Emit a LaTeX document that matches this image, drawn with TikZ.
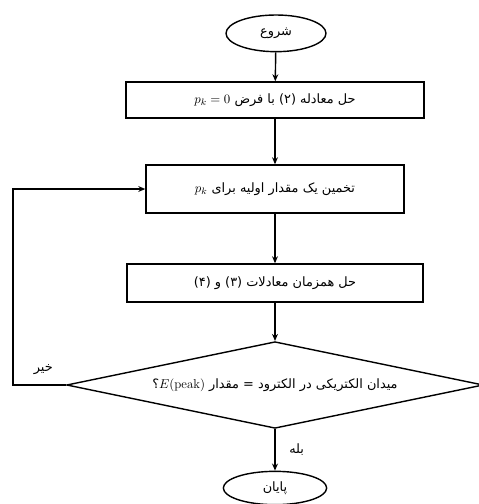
\documentclass[tikz,border=0pt]{standalone}
\usepackage{amsmath}
\usepackage{fontspec}
\usepackage{xcolor}
\newfontfamily\persianfont[Script=Arabic]{DejaVu Sans}
\TeXXeTstate=1
\newcommand{\fatxt}[1]{{\fontsize{11}{13}\selectfont\persianfont\beginR #1\endR}}
\usepackage{tikz}
\usetikzlibrary{shapes.geometric,arrows.meta}

\tikzset{
  term/.style = {ellipse, draw, line width=1.2pt, minimum width=3.0cm, minimum height=1.1cm, inner sep=0pt},
  proc/.style = {rectangle, draw, line width=1.2pt, inner sep=2pt},
  decide/.style = {diamond, draw, line width=1.2pt, aspect=4.8, inner sep=0pt, minimum width=12.5cm, minimum height=2.6cm},
  flow/.style = {-{Stealth[length=6pt,width=5pt]}, line width=1.2pt}
}

\begin{document}
\begin{tikzpicture}
\useasboundingbox (0, 0) rectangle (14.37, -15.12);

\node[term] (start) at (8.28, -1.0) {\fatxt{شروع}};
\node[proc, minimum width=8.94cm, minimum height=1.08cm] (solve) at (8.25, -3.0)
  {\fatxt{حل معادله (۲) با فرض \beginL$p_k = 0$\endL}};
\node[proc, minimum width=7.74cm, minimum height=1.44cm] (guess) at (8.25, -5.67)
  {\fatxt{تخمین یک مقدار اولیه برای \beginL$p_k$\endL}};
\node[proc, minimum width=8.88cm, minimum height=1.14cm] (joint) at (8.25, -8.49)
  {\fatxt{حل همزمان معادلات (۳) و (۴)}};
\node[decide] (check) at (8.25, -11.55)
  {\fatxt{میدان الکتریکی در الکترود = مقدار \beginL$E(\mathrm{peak})$\endL؟}};
\node[term, minimum width=3.1cm, minimum height=1.0cm] (stop) at (8.25, -14.64) {\fatxt{پایان}};

\coordinate (back) at (0.39, -11.55);

\draw[flow] (start) -- (solve);
\draw[flow] (solve) -- (guess);
\draw[flow] (guess) -- (joint);
\draw[flow] (joint) -- (check);
\draw[flow] (check) -- (stop);
\draw[flow] (check.west) -- (check.west -| back) |- (guess.west);

\node (no) at (1.3, -11.1) {\fatxt{خیر}};
\node (yes) at (8.9, -13.5) {\fatxt{بله}};

\end{tikzpicture}
\end{document}
